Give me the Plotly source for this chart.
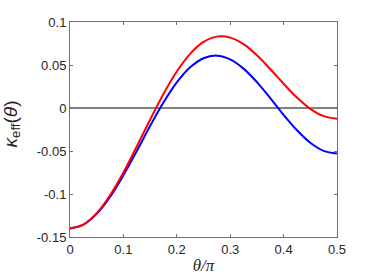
import plotly.graph_objects as go

# theta/pi sample points and curves
theta = [0, 0.025, 0.05, 0.075, 0.1, 0.125, 0.15, 0.175, 0.2, 0.225, 0.25,
         0.275, 0.3, 0.325, 0.35, 0.375, 0.4, 0.425, 0.45, 0.475, 0.5]
kappa_red = [-0.1400, -0.1355, -0.1223, -0.1015, -0.0750, -0.0448, -0.0136,
             0.0163, 0.0424, 0.0630, 0.0768, 0.0830, 0.0818, 0.0742, 0.0614,
             0.0453, 0.0282, 0.0121, -0.0010, -0.0095, -0.0125]
kappa_blue = [-0.1400, -0.1357, -0.1231, -0.1034, -0.0783, -0.0501, -0.0210,
              0.0063, 0.0297, 0.0473, 0.0579, 0.0609, 0.0566, 0.0458, 0.0301,
              0.0115, -0.0080, -0.0259, -0.0404, -0.0498, -0.0530]

xticks = [0, 0.1, 0.2, 0.3, 0.4, 0.5]
xticklabels = ["0", "0.1", "0.2", "0.3", "0.4", "0.5"]
yticks = [-0.15, -0.1, -0.05, 0, 0.05, 0.1]
yticklabels = ["-0.15", "-0.1", "-0.05", "0", "0.05", "0.1"]

fig = go.Figure()
fig.add_trace(go.Scatter(x=theta, y=kappa_blue, mode="lines",
                         line=dict(color="#0000ff", width=2, shape="spline")))
fig.add_trace(go.Scatter(x=theta, y=kappa_red, mode="lines",
                         line=dict(color="#ff0000", width=2, shape="spline")))

axis_style = dict(
    showline=True, linecolor="#707070", linewidth=1,
    mirror="ticks", ticks="inside", ticklen=3, tickcolor="#707070",
    showgrid=False, tickfont=dict(size=13, color="#262626"),
)

fig.update_xaxes(
    range=[0, 0.5], tickvals=xticks, ticktext=xticklabels,
    title=dict(text="<i>θ/π</i>", font=dict(family="Liberation Serif", size=17, color="#262626"),
               standoff=3),
    zeroline=False, **axis_style,
)
fig.update_yaxes(
    range=[-0.15, 0.1], tickvals=yticks, ticktext=yticklabels,
    zeroline=True, zerolinecolor="#808080", zerolinewidth=1.5, **axis_style,
)

# y label as a rotated annotation so it can sit close to the left edge
fig.add_annotation(
    text="<i>κ</i><sub>eff</sub>(<i>θ</i>)", textangle=-90,
    xref="paper", yref="paper", x=0, y=0.5, xanchor="center", yanchor="middle",
    xshift=-59, yshift=5, showarrow=False, font=dict(size=19, color="#262626"),
)

fig.update_layout(
    width=374, height=280,
    margin=dict(l=70, r=37, t=22, b=43, autoexpand=False),
    plot_bgcolor="white", paper_bgcolor="white",
    font=dict(family="Liberation Sans, Arial", size=13),
    showlegend=False,
)

# drop the browser's default 8px body margin so the figure sits at the corner
fig.write_html("out.html", config={"displayModeBar": False},
               post_script="document.body.style.margin = '0';")
